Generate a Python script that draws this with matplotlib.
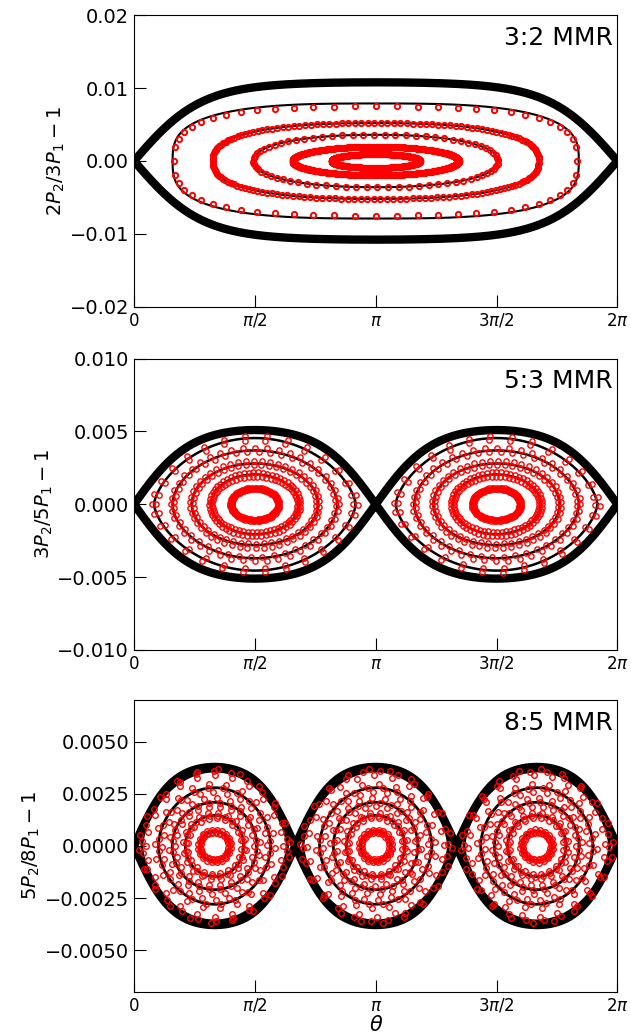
import numpy as np
import matplotlib
matplotlib.use('Agg')
import matplotlib.pyplot as plt

# ---- panel settings ----
titles = ['3:2 MMR', '5:3 MMR', '8:5 MMR']
ylabels = [r'$2P_2/3P_1-1$', r'$3P_2/5P_1-1$', r'$5P_2/8P_1-1$']
ylims = [0.02, 0.010, 0.007]
yticks = [[-0.02, -0.01, 0.0, 0.01, 0.02],
          [-0.010, -0.005, 0.0, 0.005, 0.010],
          [-0.0050, -0.0025, 0.0, 0.0025, 0.0050]]
xtick_vals = [0, np.pi/2, np.pi, 3*np.pi/2, 2*np.pi]
xtick_labels = ['0', r'$\pi/2$', r'$\pi$', r'$3\pi/2$', r'$2\pi$']

# number of islands (resonance order) and separatrix peak / flattening
n_islands = [1, 2, 3]
sep_amp = [0.0108, 0.0051, 0.0038]
sep_flat = [2.2, 1.2, 1.2]

# black libration curves: half-width in theta, half-height, shape (n, p)
curve_w = [[2.64, 2.12, 1.59, 1.08, 0.573],
           [1.31, 1.07, 0.82, 0.57, 0.31],
           [0.945, 0.73, 0.55, 0.38, 0.195]]
curve_a = [[0.0079, 0.0052, 0.0036, 0.00197, 0.00095],
           [0.00455, 0.0037, 0.0028, 0.00205, 0.00112],
           [0.0036, 0.0028, 0.0021, 0.00147, 0.0007]]
curve_n = [[3.0, 2.5, 2.2, 2.0, 2.0],
           [2.0, 2.0, 2.0, 2.0, 2.0],
           [2.0, 2.0, 2.0, 2.0, 2.0]]
curve_p = [[0.33, 0.4, 0.45, 0.5, 0.5],
           [0.65, 0.55, 0.5, 0.5, 0.5],
           [0.62, 0.55, 0.5, 0.5, 0.5]]

# red orbit points (N-body): half-width, half-height, points per orbit
pts_w = [[2.62, 2.12, 1.59, 1.08, 0.573],
         [1.28, 1.34, 1.05, 1.09, 0.80, 0.84, 0.555, 0.59, 0.30, 0.32],
         [0.89, 0.945, 0.99, 0.68, 0.73, 0.78, 0.51, 0.55, 0.59,
          0.35, 0.38, 0.41, 0.18, 0.195, 0.215]]
pts_a = [[0.0075, 0.0052, 0.0036, 0.00197, 0.00095],
         [0.0044, 0.0047, 0.0036, 0.0039, 0.0027, 0.0030, 0.0019, 0.0022, 0.00105, 0.00115],
         [0.0034, 0.0036, 0.0037, 0.0026, 0.0028, 0.0030, 0.0019, 0.0021, 0.0023,
          0.00135, 0.00147, 0.0016, 0.00064, 0.0007, 0.0008]]
pts_n = [[60, 157, 72, 400, 300],
         [30, 30, 44, 44, 50, 50, 60, 60, 80, 60],
         [24, 26, 22, 24, 24, 22, 22, 24, 22, 20, 24, 20, 20, 22, 20]]
pts_p = [[0.33, 0.4, 0.45, 0.5, 0.5],
         [0.62, 0.62, 0.55, 0.55, 0.5, 0.5, 0.5, 0.5, 0.5, 0.5],
         [0.6, 0.6, 0.6, 0.55, 0.55, 0.55] + [0.5] * 9]
pts_nexp = [[3.0, 2.5, 2.2, 2.0, 2.0], [2.0] * 10, [2.0] * 15]
marker_size = [3.8, 3.8, 4.0]
marker_edge = [1.4, 1.0, 1.0]
curve_lw = [1.5, 1.8, 2.0]


def loop(tc, w, a, n, p, t):
    c = np.cos(t)
    s = np.sin(t)
    x = tc + w * c
    y = a * np.sign(s) * np.clip(1 - np.abs(c) ** n, 0, None) ** p
    return x, y


fig = plt.figure(figsize=(6.31, 10.36), dpi=100)
bottoms = [0.7040, 0.3726, 0.0428]
golden = 0.618034

for i in range(3):
    ax = fig.add_axes([0.2124, bottoms[i], 0.766, 0.2812])
    m = n_islands[i]
    centers = [(2 * j + 1) * np.pi / m for j in range(m)]

    # separatrix
    th = np.linspace(0, 2 * np.pi, 3000)
    k = sep_flat[i]
    ys = sep_amp[i] * np.tanh(k * np.abs(np.sin(m * th / 2))) / np.tanh(k)
    ax.plot(th, ys, color='k', lw=6, solid_capstyle='round', zorder=2)
    ax.plot(th, -ys, color='k', lw=6, solid_capstyle='round', zorder=2)

    t = np.linspace(0, 2 * np.pi, 800)
    for j, tc in enumerate(centers):
        for w, a, n, p in zip(curve_w[i], curve_a[i], curve_n[i], curve_p[i]):
            x, y = loop(tc, w, a, n, p, t)
            ax.plot(x, y, color='k', lw=curve_lw[i], zorder=2)
        for q, (w, a, npts, n, p) in enumerate(zip(pts_w[i], pts_a[i], pts_n[i],
                                                   pts_nexp[i], pts_p[i])):
            tt = np.linspace(0, 2 * np.pi, npts, endpoint=False) + (j * 3 + q) * golden
            x, y = loop(tc, w, a, n, p, tt)
            ax.plot(x, y, 'o', mfc='none', mec='red', ms=marker_size[i],
                    mew=marker_edge[i], zorder=3)

    ax.set_xlim(0, 2 * np.pi)
    ax.set_ylim(-ylims[i], ylims[i])
    ax.set_xticks(xtick_vals)
    ax.set_xticklabels(xtick_labels, fontsize=12)
    ax.set_yticks(yticks[i])
    ax.tick_params(axis='y', labelsize=14)
    ax.tick_params(direction='in', length=8.5, width=0.8, top=False, right=False)
    for sp in ax.spines.values():
        sp.set_linewidth(0.8)
    ax.set_ylabel(ylabels[i], fontsize=14, labelpad=2)
    ax.text(0.99, 0.965, titles[i], transform=ax.transAxes, ha='right', va='top', fontsize=18)
    if i == 2:
        ax.set_xlabel(r'$\theta$', fontsize=15, labelpad=0)

fig.savefig('out.png', dpi=100)
